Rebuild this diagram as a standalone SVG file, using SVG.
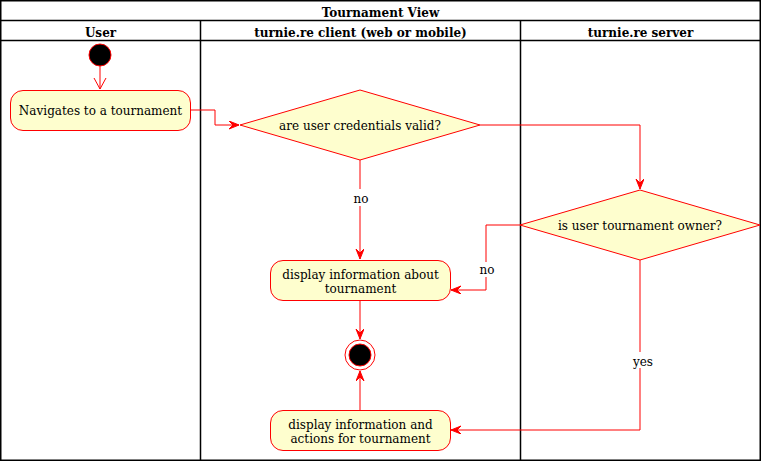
<svg xmlns="http://www.w3.org/2000/svg" width="761" height="461" viewBox="0 0 761 461">
<defs>
<marker id="ah" markerWidth="10" markerHeight="10" refX="10" refY="4" orient="auto" markerUnits="userSpaceOnUse">
<polygon points="0,0 10,4 0,8 4,4" fill="#FF0000" stroke="#FF0000" stroke-width="1"/>
</marker>
</defs>
<style>
.frame{fill:none;stroke:#000;stroke-width:1.5}
.hdr{font-family:"DejaVu Serif",serif;font-size:12px;font-weight:bold;text-anchor:middle;fill:#000}
.act{fill:#FEFECE;stroke:#FF0000;stroke-width:1}
.t{font-family:"DejaVu Serif",serif;font-size:12px;text-anchor:middle;fill:#000}
.c{fill:none;stroke:#FF0000;stroke-width:1}
.lbl{font-family:"DejaVu Serif",serif;font-size:12px;text-anchor:middle;fill:#000}
</style>
<rect x="0" y="0" width="761" height="461" fill="#fff"/>
<g id="frame">
<rect class="frame" x="0.75" y="0.75" width="759.5" height="459.5"/>
<line class="frame" x1="0" y1="20.5" x2="761" y2="20.5"/>
<line class="frame" x1="0" y1="40.5" x2="761" y2="40.5"/>
<line class="frame" x1="200.5" y1="20.5" x2="200.5" y2="461"/>
<line class="frame" x1="520.5" y1="20.5" x2="520.5" y2="461"/>
<text class="hdr" x="380.5" y="16.5">Tournament View</text>
<text class="hdr" x="100.5" y="36.5">User</text>
<text class="hdr" x="360.5" y="36.5">turnie.re client (web or mobile)</text>
<text class="hdr" x="640.5" y="36.5">turnie.re server</text>
</g>
<g id="connectors">
<line class="c" x1="100" y1="66" x2="100" y2="89"/>
<polyline class="c" points="94,78 100,89 106,78"/>
<polyline class="c" points="190,110 215,110 215,125 239,125" marker-end="url(#ah)"/>
<polyline class="c" points="480,125 640,125 640,189" marker-end="url(#ah)"/>
<line class="c" x1="360" y1="160" x2="360" y2="189"/>
<line class="c" x1="360" y1="206" x2="360" y2="259" marker-end="url(#ah)"/>
<text class="lbl" x="361" y="202.5">no</text>
<polyline class="c" points="520,225 486,225 486,262"/>
<polyline class="c" points="486,277 486,290 451,290" marker-end="url(#ah)"/>
<text class="lbl" x="487" y="274">no</text>
<line class="c" x1="360" y1="300" x2="360" y2="339" marker-end="url(#ah)"/>
<line class="c" x1="360" y1="410" x2="360" y2="371" marker-end="url(#ah)"/>
<polyline class="c" points="640,260 640,352"/>
<polyline class="c" points="640,368 640,430 451,430" marker-end="url(#ah)"/>
<text class="lbl" x="643" y="365.5">yes</text>
</g>
<g id="start">
<circle cx="100" cy="55" r="11" fill="#000" stroke="#FF0000" stroke-width="1"/>
</g>
<g id="navigates">
<rect class="act" x="10.5" y="90.5" width="180" height="40" rx="12.5"/>
<text class="t" x="100.5" y="115">Navigates to a tournament</text>
</g>
<g id="credentials">
<polygon class="act" points="240,125 360,90 480,125 360,160"/>
<text class="t" x="360" y="130">are user credentials valid?</text>
</g>
<g id="owner">
<polygon class="act" points="520,225 640,190 760,225 640,260"/>
<text class="t" x="640" y="230">is user tournament owner?</text>
</g>
<g id="display-about">
<rect class="act" x="270.5" y="260.5" width="180" height="40" rx="12.5"/>
<text class="t" x="360.5" y="278.5">display information about</text>
<text class="t" x="360.5" y="292.5">tournament</text>
</g>
<g id="end">
<circle cx="360" cy="355" r="15" fill="none" stroke="#FF0000" stroke-width="1"/>
<circle cx="360" cy="355" r="11" fill="#000" stroke="#FF0000" stroke-width="1"/>
</g>
<g id="display-actions">
<rect class="act" x="270.5" y="410.5" width="180" height="40" rx="12.5"/>
<text class="t" x="360.5" y="428.5">display information and</text>
<text class="t" x="360.5" y="442.5">actions for tournament</text>
</g>
</svg>
